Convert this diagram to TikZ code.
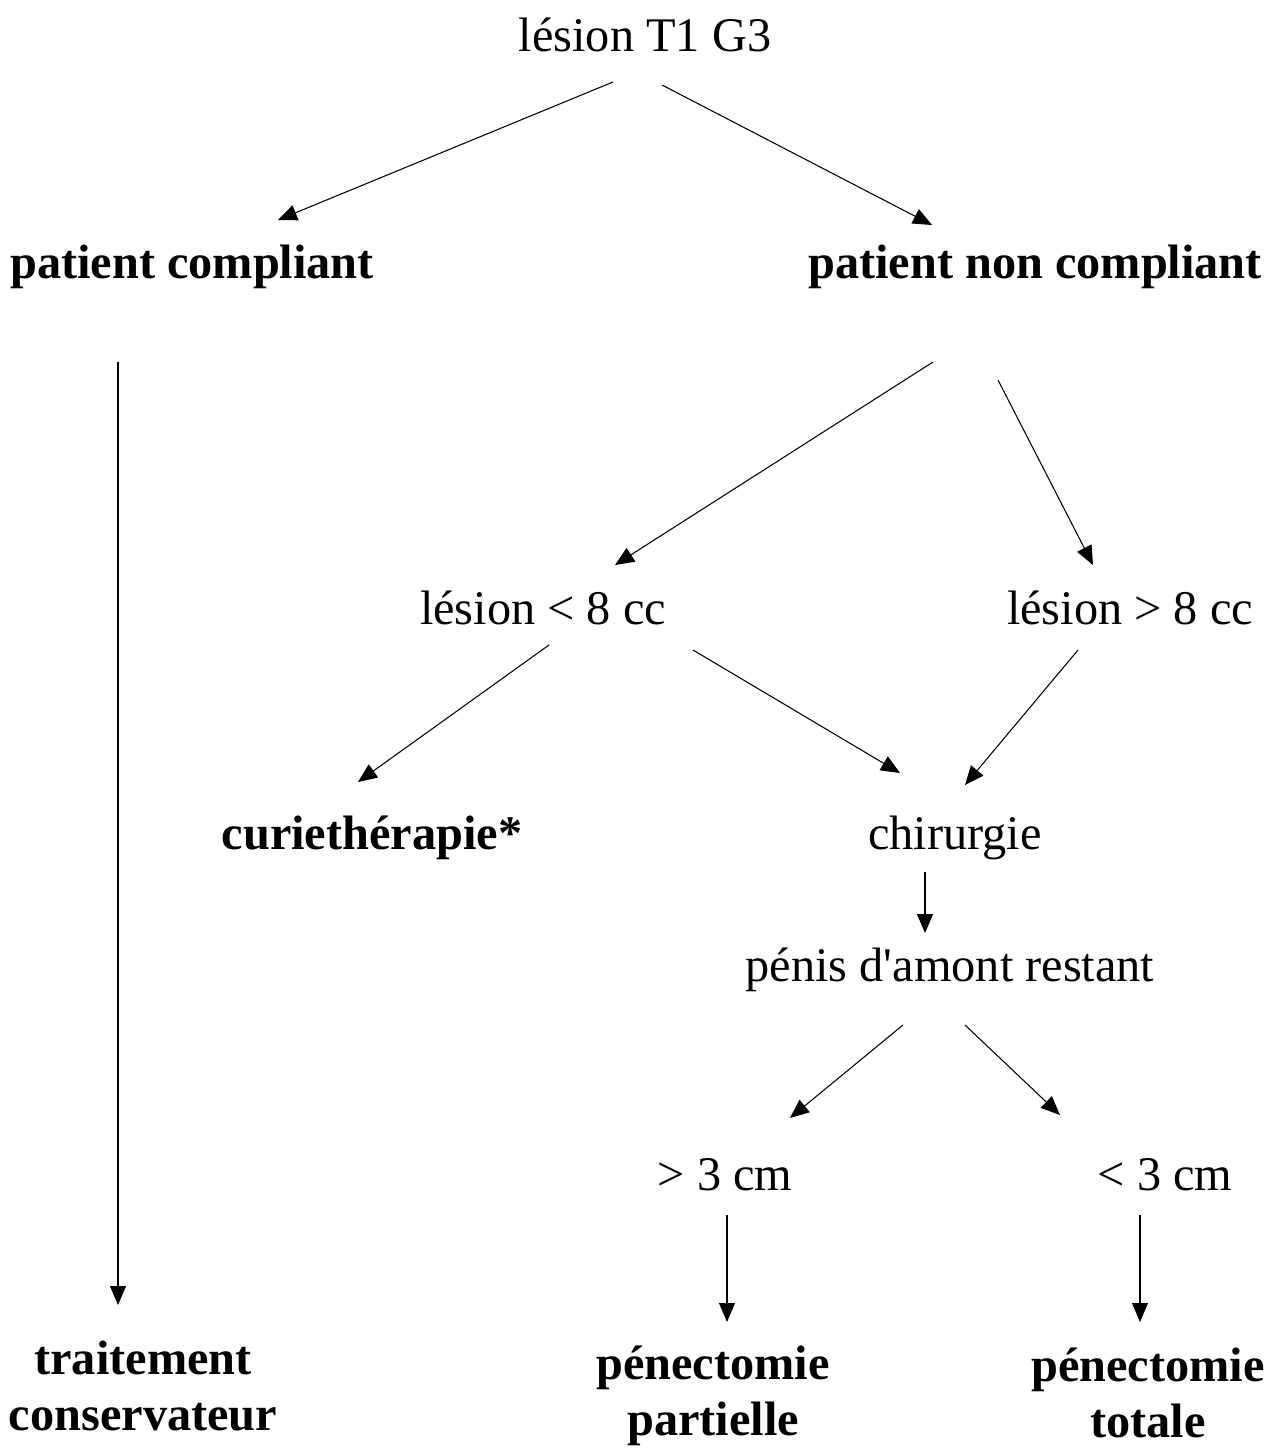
\documentclass[tikz,border=0pt]{standalone}
\usepackage{fontspec}
\setmainfont{Liberation Serif}
\usetikzlibrary{arrows.meta}

\begin{document}
\begin{tikzpicture}[
    x=0.02cm, y=-0.02cm,
    plain/.style={font=\fontsize{27.5}{32}\selectfont, inner sep=0pt, align=center},
    leaf/.style={plain, font=\fontsize{27.5}{32}\selectfont\bfseries},
    arr/.style={-{Triangle[length=0.38cm, width=0.32cm]}, line width=0.6pt},
]
\useasboundingbox (0,0) rectangle (1277,1448);

\node[plain] (top) at (645, 35) {lésion T1 G3};
\node[leaf] (pc) at (192, 267) {patient compliant};
\node[leaf] (pnc) at (1035, 267) {patient non compliant};
\node[plain] (lt8) at (543, 608) {lésion < 8 cc};
\node[plain] (gt8) at (1130, 608) {lésion > 8 cc};
\node[leaf] (curie) at (372, 838) {curiethérapie*};
\node[plain] (chir) at (955, 838) {chirurgie};
\node[plain] (penis) at (950, 970) {pénis d\textquotesingle amont restant};
\node[plain] (gt3) at (725, 1175) {> 3 cm};
\node[plain] (lt3) at (1165, 1175) {< 3 cm};
\node[leaf] (cons) at (143, 1386) {traitement\\conservateur};
\node[leaf] (part) at (713, 1396) {pénectomie\\partielle};
\node[leaf] (tot) at (1148, 1393) {pénectomie\\totale};

\draw[arr] ([shift={(-32,47)}]top.center) -- ([shift={(86,-47)}]pc.center);
\draw[arr] ([shift={(17,50)}]top.center) -- ([shift={(-103,-42)}]pnc.center);
\draw[arr] ([shift={(-74,95)}]pc.center) -- ([shift={(-25,-81)}]cons.center);
\draw[arr] ([shift={(-102,95)}]pnc.center) -- ([shift={(72,-43)}]lt8.center);
\draw[arr] ([shift={(-37,113)}]pnc.center) -- ([shift={(-37,-43)}]gt8.center);
\draw[arr] ([shift={(6,37)}]lt8.center) -- ([shift={(-14,-56)}]curie.center);
\draw[arr] ([shift={(150,42)}]lt8.center) -- ([shift={(-55,-65)}]chir.center);
\draw[arr] ([shift={(-52,42)}]gt8.center) -- ([shift={(10,-53)}]chir.center);
\draw[arr] ([shift={(-30,34)}]chir.center) -- ([shift={(-25,-37)}]penis.center);
\draw[arr] ([shift={(-47,55)}]penis.center) -- ([shift={(65,-57)}]gt3.center);
\draw[arr] ([shift={(15,55)}]penis.center) -- ([shift={(-105,-60)}]lt3.center);
\draw[arr] ([shift={(2,40)}]gt3.center) -- ([shift={(14,-74)}]part.center);
\draw[arr] ([shift={(-25,40)}]lt3.center) -- ([shift={(-8,-71)}]tot.center);

\end{tikzpicture}
\end{document}
